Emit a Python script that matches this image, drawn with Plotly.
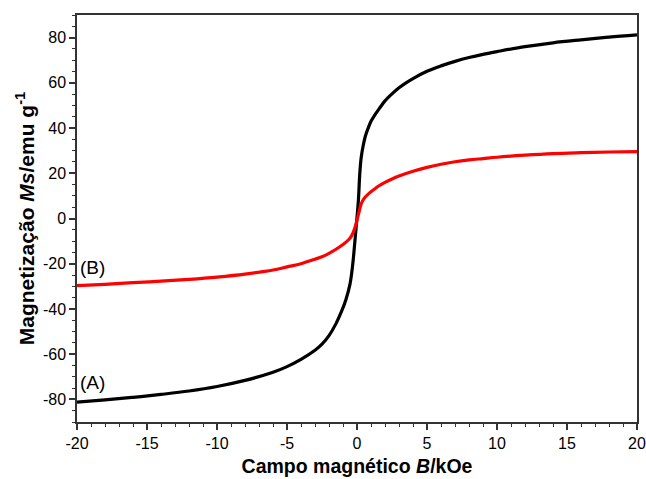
import plotly.graph_objects as go

# Sample (A)
field_A = [-20, -18, -16, -14, -12, -10, -8, -6, -5, -4, -3, -2.5, -2, -1.5, -1.1, -0.8, -0.5, -0.3, -0.15, 0,
           0.1, 0.2, 0.3, 0.45, 0.6, 0.8, 1.0, 1.3, 1.6, 2.0, 2.5, 3.0, 3.5, 4, 5, 6, 7, 8, 9, 10, 12, 14, 16, 18, 20]
mag_A = [-81.2, -80.2, -79.1, -77.8, -76.3, -74.3, -71.6, -68, -65.5, -62.3, -58.3, -55.6, -51.8, -46.5, -41, -36, -29, -20, -10, 0.5,
         8, 20, 27, 32.5, 36.5, 40, 43, 46, 48.7, 52, 55.1, 57.8, 60.0, 61.9, 65.1, 67.5, 69.5, 71.2, 72.6, 73.8, 76, 77.7, 79, 80.2, 81.2]

# Sample (B)
field_B = [-20, -18, -16, -14, -12, -10, -8, -6, -5, -4, -3, -2.5, -2, -1.5, -1, -0.6, -0.4, -0.2, 0,
           0.15, 0.3, 0.5, 0.8, 1.2, 1.6, 2.0, 2.5, 3, 4, 5, 6, 7, 8, 9, 10, 12, 14, 16, 18, 20]
mag_B = [-29.7, -29.1, -28.4, -27.7, -26.9, -25.9, -24.6, -22.8, -21.4, -20, -18.0, -16.9, -15.4, -13.6, -11.5, -9.4, -7.8, -5, -0.8,
         3, 6.5, 8.8, 10.8, 12.8, 14.6, 16.0, 17.5, 18.8, 20.9, 22.6, 24.0, 25.1, 25.9, 26.5, 27.1, 28, 28.7, 29.1, 29.4, 29.6]

x_tickvals = [-20, -15, -10, -5, 0, 5, 10, 15, 20]
x_ticktext = ["-20", "-15", "-10", "-5", "0", "5", "10", "15", "20"]
y_tickvals = [-80, -60, -40, -20, 0, 20, 40, 60, 80]
y_ticktext = ["-80", "-60", "-40", "-20", "0", "20", "40", "60", "80"]

fam = "Liberation Sans, Arial, sans-serif"

fig = go.Figure()
fig.add_trace(go.Scatter(x=field_A, y=mag_A, mode="lines",
                         line=dict(color="black", width=3.2, shape="spline", smoothing=1), showlegend=False))
fig.add_trace(go.Scatter(x=field_B, y=mag_B, mode="lines",
                         line=dict(color="#ff0000", width=3.2, shape="spline", smoothing=1), showlegend=False))

fig.add_annotation(x=-20, y=-72.5, text="(A)", showarrow=False, xanchor="left", xshift=1,
                   font=dict(family=fam, size=19, color="black"))
fig.add_annotation(x=-20, y=-21.5, text="(B)", showarrow=False, xanchor="left", xshift=1,
                   font=dict(family=fam, size=19, color="black"))

axis_common = dict(showgrid=False, zeroline=False, showline=True, mirror=True, linecolor="#333333", linewidth=1.5,
                   ticks="outside", ticklen=6, tickwidth=1.5, tickcolor="#333333",
                   tickfont=dict(family=fam, size=16, color="black"), automargin=False)
fig.update_xaxes(range=[-20, 20], tickvals=x_tickvals, ticktext=x_ticktext,
                 minor=dict(dtick=1, ticks="outside", ticklen=3.5, tickwidth=1.2, tickcolor="#333333"),
                 title=dict(text="<b>Campo magnético <i>B</i>/kOe</b>", font=dict(family=fam, size=19.5, color="black"),
                            standoff=8),
                 **axis_common)
fig.update_yaxes(range=[-90, 90], tickvals=y_tickvals, ticktext=y_ticktext,
                 minor=dict(dtick=5, ticks="outside", ticklen=3.5, tickwidth=1.2, tickcolor="#333333"),
                 title=dict(text="<b>Magnetização <i>Ms</i>/emu g<sup>-1</sup></b>",
                            font=dict(family=fam, size=21, color="black"), standoff=3),
                 **axis_common)
fig.update_layout(width=646, height=479, margin=dict(l=77, r=9, t=15, b=57),
                  plot_bgcolor="white", paper_bgcolor="white")
fig.write_html("out.html")
